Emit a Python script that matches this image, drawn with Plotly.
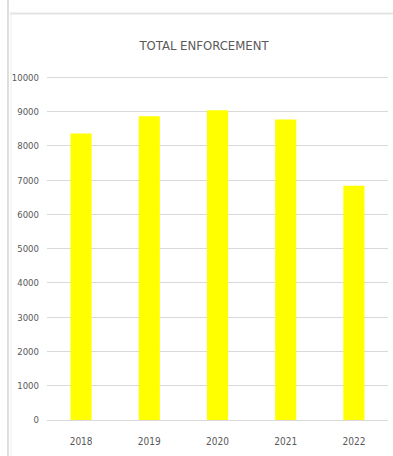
import plotly.graph_objects as go

# Yearly totals
years = ["2018", "2019", "2020", "2021", "2022"]
enforcement_totals = [8360, 8870, 9040, 8770, 6840]
y_tick_values = [0, 1000, 2000, 3000, 4000, 5000, 6000, 7000, 8000, 9000, 10000]
y_tick_labels = ["0", "1000", "2000", "3000", "4000", "5000", "6000", "7000", "8000", "9000", "10000"]

W, H = 393, 456
ML, MR, MT, MB = 47, 5, 74, 36
PW, PH = W - ML - MR, H - MT - MB

FONT = "Liberation Sans Narrow, DejaVu Sans Condensed, Arial Narrow, sans-serif"
TEXT = "#595959"
GRID = "#d9d9d9"


def px_x(x):
    return (x - ML) / PW


def px_y(y):
    return 1 - (y - MT) / PH


fig = go.Figure(
    go.Bar(
        x=years,
        y=enforcement_totals,
        marker=dict(color="#FFFF00", line=dict(width=0)),
        hoverinfo="x+y",
    )
)

# Chart frame lines around the figure area
frame = [
    dict(x0=px_x(8), x1=px_x(8), y0=px_y(0), y1=px_y(H), color="#dedede", width=2),
    dict(x0=px_x(11), x1=px_x(11), y0=px_y(13), y1=px_y(H), color="#ececec", width=1),
    dict(x0=px_x(10), x1=px_x(W), y0=px_y(13.5), y1=px_y(13.5), color="#e3e3e3", width=2),
]
shapes = [
    dict(type="line", xref="paper", yref="paper",
         x0=f["x0"], x1=f["x1"], y0=f["y0"], y1=f["y1"],
         line=dict(color=f["color"], width=f["width"]), layer="below")
    for f in frame
]

fig.update_layout(
    width=W,
    height=H,
    margin=dict(l=ML, r=MR, t=MT, b=MB),
    paper_bgcolor="white",
    plot_bgcolor="white",
    bargap=0.69,
    showlegend=False,
    shapes=shapes,
    title=dict(
        text="TOTAL ENFORCEMENT",
        font=dict(family=FONT, size=13, color=TEXT),
        x=204 / W,
        xanchor="center",
        y=1 - 45 / H,
        yanchor="middle",
        xref="container",
        yref="container",
    ),
    xaxis=dict(
        type="category",
        showgrid=False,
        showline=True,
        linecolor=GRID,
        linewidth=1,
        ticks="",
        tickfont=dict(family=FONT, size=10, color=TEXT),
        ticklabelstandoff=12,
    ),
    yaxis=dict(
        range=[0, 10100],
        tickvals=y_tick_values,
        ticktext=y_tick_labels,
        showgrid=True,
        gridcolor=GRID,
        gridwidth=1,
        zeroline=True,
        zerolinecolor=GRID,
        zerolinewidth=1,
        showline=False,
        ticks="",
        tickfont=dict(family=FONT, size=9.5, color=TEXT),
        ticklabelstandoff=7,
    ),
)

fig.write_html("out.html")
